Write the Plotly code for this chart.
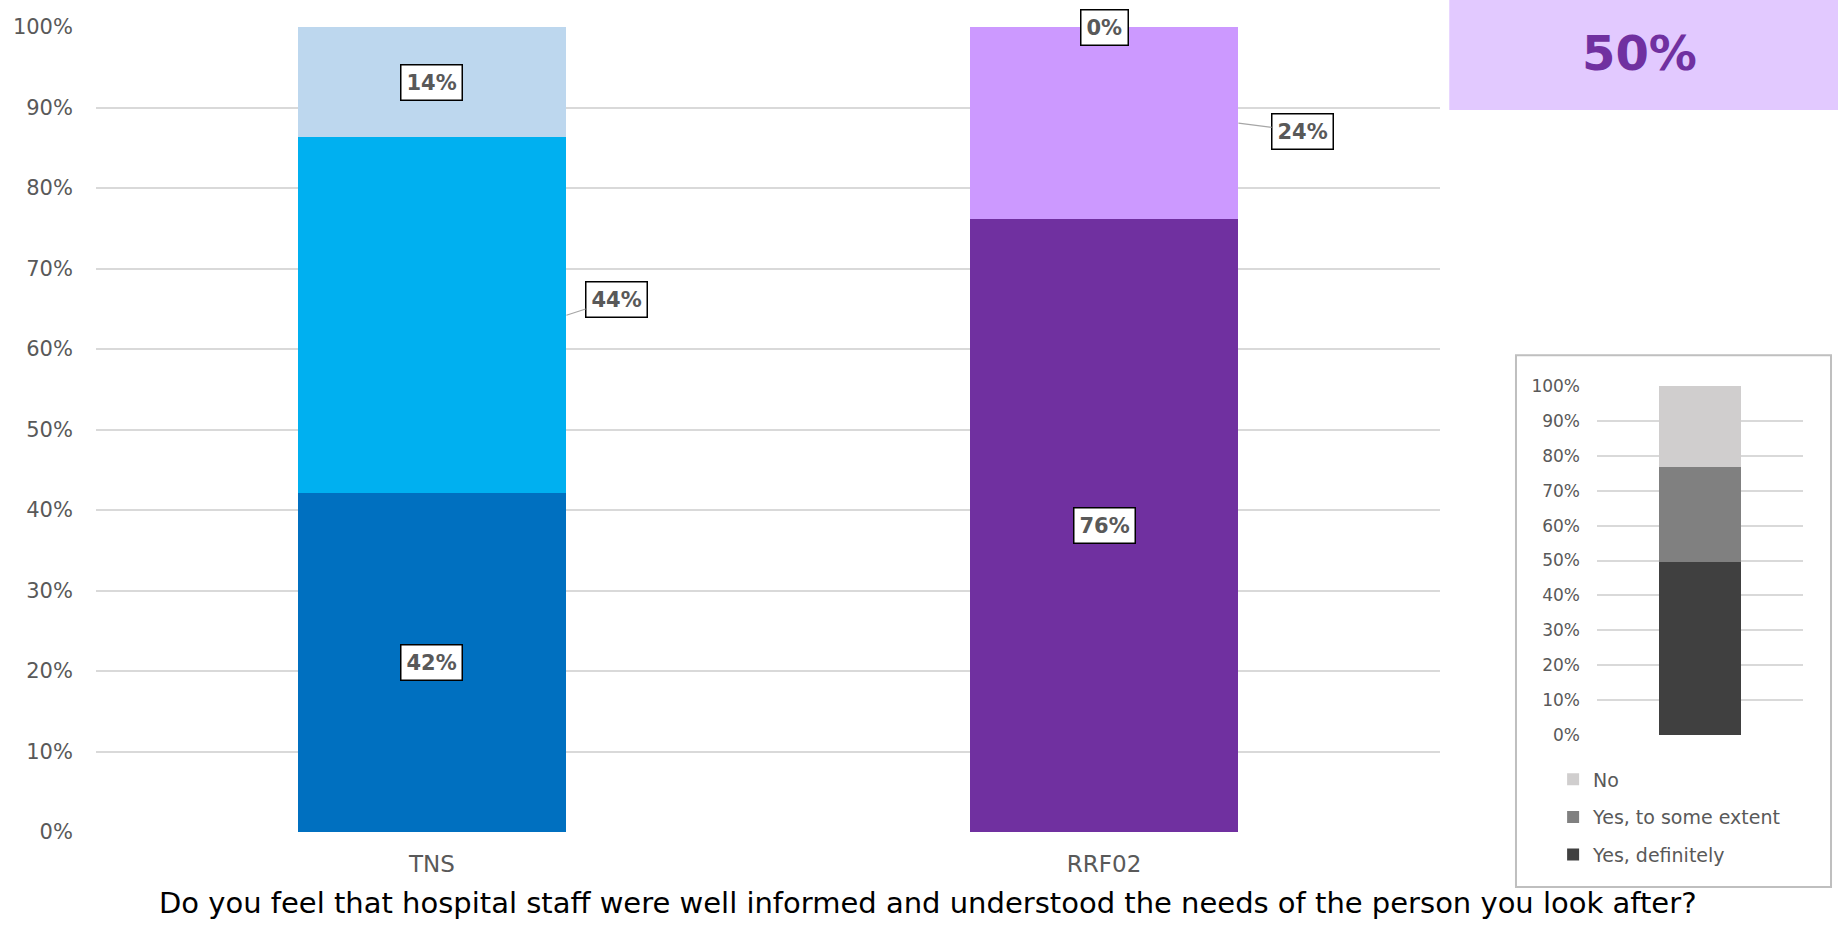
import plotly.graph_objects as go

# ---------------- data ----------------
categories = ["TNS", "RRF02"]
yes_definitely = [42.1, 76.1]
yes_some_extent = [44.2, 23.9]
no_answer = [13.7, 0.0]

inset_category = ["All"]
inset_yes_definitely = [49.6]
inset_yes_some_extent = [27.3]
inset_no = [23.1]

headline_value = "50%"
question = "Do you feel that hospital staff were well informed and understood the needs of the person you look after?"
tick_values = [0, 10, 20, 30, 40, 50, 60, 70, 80, 90, 100]
tick_labels = [f"{v}%" for v in tick_values]

# ---------------- style ----------------
FONT = "DejaVu Sans"
GREY_TXT = "#595959"
GRID = "#d9d9d9"
colors_def = ["#0070C0", "#7030A0"]
colors_some = ["#00B0F0", "#CC99FF"]
colors_no = ["#BDD7EE", "#CC99FF"]
BAR_HALF = 0.2  # half bar width in category units (bargap 0.6)
# label offsets (pixels) for labels placed beside the bar, keyed (category index, series)
side_labels = {(0, "some"): (50, -16), (1, "some"): (64, 8)}

fig = go.Figure()

fig.add_trace(go.Bar(x=categories, y=yes_definitely, marker_color=colors_def,
                     marker_line_width=0, showlegend=False, hoverinfo="skip"))
fig.add_trace(go.Bar(x=categories, y=yes_some_extent, marker_color=colors_some,
                     marker_line_width=0, showlegend=False, hoverinfo="skip"))
fig.add_trace(go.Bar(x=categories, y=no_answer, marker_color=colors_no,
                     marker_line_width=0, showlegend=False, hoverinfo="skip"))

fig.add_trace(go.Bar(x=inset_category, y=inset_yes_definitely, name="Yes, definitely",
                     marker_color="#404040", marker_line_width=0, xaxis="x2", yaxis="y2",
                     legendgroup="a", legendrank=3))
fig.add_trace(go.Bar(x=inset_category, y=inset_yes_some_extent, name="Yes, to some extent",
                     marker_color="#808080", marker_line_width=0, xaxis="x2", yaxis="y2",
                     legendgroup="b", legendrank=2))
fig.add_trace(go.Bar(x=inset_category, y=inset_no, name="No",
                     marker_color="#D0CECE", marker_line_width=0, xaxis="x2", yaxis="y2",
                     legendgroup="c", legendrank=1))

annotations = []
for i, cat in enumerate(categories):
    base = 0.0
    for key, series in (("def", yes_definitely), ("some", yes_some_extent), ("no", no_answer)):
        v = series[i]
        mid = base + v / 2
        base += v
        common = dict(text=f"<b>{round(v)}%</b>", xref="x", yref="y",
                      font=dict(family=FONT, size=21, color=GREY_TXT),
                      bgcolor="white", bordercolor="#000000", borderwidth=1.5, borderpad=5)
        if (i, key) in side_labels:
            ax, ay = side_labels[(i, key)]
            annotations.append(dict(x=i + BAR_HALF, y=mid, showarrow=True, arrowhead=0,
                                    arrowwidth=1.2, arrowcolor="#a6a6a6", ax=ax, ay=ay,
                                    standoff=0, startstandoff=0, **common))
        else:
            annotations.append(dict(x=i, y=mid, showarrow=False, **common))

annotations.append(dict(text=question, xref="paper", yref="paper", x=0.505, y=0.003,
                        showarrow=False, xanchor="center", yanchor="bottom",
                        font=dict(family=FONT, size=29, color="#000000")))
annotations.append(dict(text=f"<b>{headline_value}</b>", xref="paper", yref="paper",
                        x=0.892, y=0.943, showarrow=False, xanchor="center", yanchor="middle",
                        font=dict(family=FONT, size=48, color="#7030A0")))

shapes = [
    dict(type="rect", xref="paper", yref="paper", x0=0.7885, x1=1.0, y0=0.881, y1=1.0,
         fillcolor="#E2C9FF", line_width=0, layer="below"),
    dict(type="rect", xref="paper", yref="paper", x0=0.8248, x1=0.9962, y0=0.041, y1=0.616,
         fillcolor="rgba(0,0,0,0)", line=dict(color="#bfbfbf", width=2), layer="below"),
]

fig.update_layout(
    width=1838, height=925,
    margin=dict(l=0, r=0, t=0, b=0, autoexpand=False),
    paper_bgcolor="white", plot_bgcolor="white",
    barmode="stack", bargap=0.6,
    font=dict(family=FONT, color=GREY_TXT),
    xaxis=dict(domain=[0.0522, 0.7835], showgrid=False, showline=False, ticks="",
               tickfont=dict(size=23, color=GREY_TXT), ticklabelstandoff=16,
               range=[-0.5, 1.5], automargin=False),
    yaxis=dict(domain=[0.1005, 0.9708], range=[0, 100], tickvals=tick_values,
               ticktext=tick_labels, showgrid=True, gridcolor=GRID, gridwidth=2,
               zeroline=False, showline=False, tickfont=dict(size=21, color=GREY_TXT),
               ticklabelstandoff=22, automargin=False),
    xaxis2=dict(domain=[0.8689, 0.981], anchor="y2", showgrid=False, showline=False,
                showticklabels=False, ticks="", range=[-0.5, 0.5], automargin=False),
    yaxis2=dict(domain=[0.2054, 0.5827], anchor="x2", range=[0, 100], tickvals=tick_values,
                ticktext=tick_labels, showgrid=True, gridcolor=GRID, gridwidth=1.5,
                zeroline=False, showline=False, tickfont=dict(size=17, color=GREY_TXT),
                ticklabelstandoff=16, automargin=False),
    legend=dict(x=0.845, y=0.178, xanchor="left", yanchor="top", traceorder="grouped",
                tracegroupgap=10, font=dict(family=FONT, size=19, color=GREY_TXT),
                bgcolor="rgba(0,0,0,0)", itemwidth=30),
    annotations=annotations,
    shapes=shapes,
)

fig.write_html("out.html", config={"displayModeBar": False},
               post_script="document.body.style.margin='0';document.body.style.overflow='hidden';")
